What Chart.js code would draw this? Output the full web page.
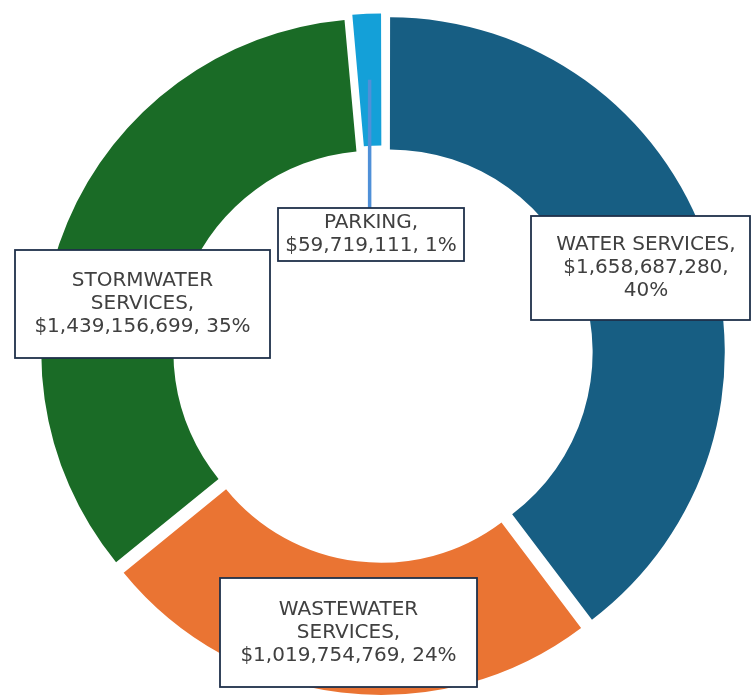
<!DOCTYPE html>
<html>
<head>
<meta charset="utf-8">
<script src="https://cdn.jsdelivr.net/npm/chart.js@4.4.0/dist/chart.umd.min.js"></script>
<style>
html, body { margin: 0; padding: 0; background: #fff; }
#contenedor { width: 751px; height: 697px; position: relative; }
</style>
</head>
<body>
<div id="contenedor"><canvas id="grafica"></canvas></div>
<script>
// datos
var categorias = ['WATER SERVICES', 'WASTEWATER SERVICES', 'STORMWATER SERVICES', 'PARKING'];
var valores = [1658687280, 1019754769, 1439156699, 59719111];
var porcentajes = [40, 24, 35, 1];
var colores = ['#175e83', '#ea7433', '#1a6b26', '#14a0d8'];

// cajas de etiquetas (x, y, ancho, alto, ancho maximo de texto)
var cajas = [
        { x: 531, y: 216, w: 219, h: 104, max: 200, cx: 646 },
        { x: 220, y: 578, w: 257, h: 109, max: 235 },
        { x: 15, y: 250, w: 255, h: 108, max: 235 },
        { x: 278, y: 208, w: 186, h: 53, max: 182 }
];

function dinero(v) {
        return '$' + v.toString().replace(/\B(?=(\d{3})+(?!\d))/g, ',');
}

function partirTexto(ctx, texto, max) {
        var palabras = texto.split(' ');
        var lineas = [];
        var actual = '';
        palabras.forEach(function (p) {
                var prueba = actual ? actual + ' ' + p : p;
                if (actual && ctx.measureText(prueba).width > max) {
                        lineas.push(actual);
                        actual = p;
                } else {
                        actual = prueba;
                }
        });
        if (actual) lineas.push(actual);
        return lineas;
}

var etiquetas = {
        id: 'etiquetas',
        afterDatasetsDraw: function (chart) {
                var ctx = chart.ctx;
                var arcos = chart.getDatasetMeta(0).data;
                ctx.save();
                // linea guia de parking
                var a = arcos[3];
                var p = a.getProps(['x', 'y', 'startAngle', 'endAngle', 'innerRadius', 'outerRadius'], true);
                var medio = (p.startAngle + p.endAngle) / 2;
                var t = (a.options.offset || 0) / 4;
                var r = (p.innerRadius + p.outerRadius) / 2 + t * 0.9;
                var lx = p.x + Math.cos(medio) * (r + t);
                var ly = p.y + Math.sin(medio) * (r + t);
                ctx.strokeStyle = '#4f90d8';
                ctx.lineWidth = 3.5;
                ctx.beginPath();
                ctx.moveTo(lx, ly);
                ctx.lineTo(lx, cajas[3].y);
                ctx.stroke();

                ctx.font = '20px "DejaVu Sans", Verdana, sans-serif';
                ctx.textAlign = 'center';
                ctx.textBaseline = 'middle';
                categorias.forEach(function (cat, i) {
                        var c = cajas[i];
                        ctx.fillStyle = '#ffffff';
                        ctx.fillRect(c.x, c.y, c.w, c.h);
                        ctx.strokeStyle = '#1f304a';
                        ctx.lineWidth = 1.8;
                        ctx.strokeRect(c.x, c.y, c.w, c.h);
                        var texto = cat + ', ' + dinero(valores[i]) + ', ' + porcentajes[i] + '%';
                        var lineas = partirTexto(ctx, texto, c.max);
                        var alto = 23;
                        var y0 = c.y + c.h / 2 - (lineas.length - 1) * alto / 2;
                        var xm = c.cx || (c.x + c.w / 2);
                        ctx.fillStyle = '#404040';
                        lineas.forEach(function (l, k) {
                                ctx.fillText(l, xm, y0 + k * alto);
                        });
                });
                ctx.restore();
        }
};

new Chart(document.getElementById('grafica').getContext('2d'), {
        type: 'doughnut',
        data: {
                labels: categorias,
                datasets: [{
                        data: valores,
                        backgroundColor: colores,
                        borderWidth: 0,
                        offset: [32, 32, 32, 20],
                        clip: false
                }]
        },
        options: {
                responsive: true,
                maintainAspectRatio: false,
                animation: false,
                radius: 332,
                cutout: '60.2%',
                layout: { padding: { left: 13, top: 13, right: 0, bottom: 0 } },
                plugins: {
                        legend: { display: false },
                        tooltip: { enabled: false }
                }
        },
        plugins: [etiquetas]
});
</script>
</body>
</html>
